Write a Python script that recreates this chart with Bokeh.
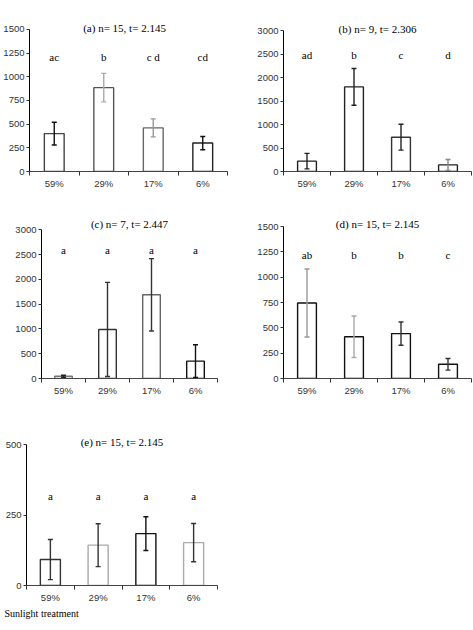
from bokeh.plotting import figure
from bokeh.models import Range1d, FixedTicker, Title
from bokeh.layouts import column, row
from bokeh.core.properties import value
from bokeh.embed import file_html
from bokeh.resources import INLINE

categories = ["59%", "29%", "17%", "6%"]

a_title = "(a) n= 15, t= 2.145"
a_means = [400, 885, 460, 300]
a_errors = [120, 150, 95, 70]
a_letters = ["ac", "b", "c d", "cd"]
a_yticks = [0, 250, 500, 750, 1000, 1250, 1500]

b_title = "(b) n= 9, t= 2.306"
b_means = [220, 1800, 730, 140]
b_errors = [165, 390, 275, 115]
b_letters = ["ad", "b", "c", "d"]
b_yticks = [0, 500, 1000, 1500, 2000, 2500, 3000]

c_title = "(c) n= 7, t= 2.447"
c_means = [45, 990, 1690, 350]
c_errors = [20, 950, 730, 330]
c_letters = ["a", "a", "a", "a"]
c_yticks = [0, 500, 1000, 1500, 2000, 2500, 3000]

d_title = "(d) n= 15, t= 2.145"
d_means = [745, 412, 443, 140]
d_errors = [335, 205, 115, 57]
d_letters = ["ab", "b", "b", "c"]
d_yticks = [0, 250, 500, 750, 1000, 1250, 1500]

e_title = "(e) n= 15, t= 2.145"
e_means = [92, 143, 184, 152]
e_errors = [71, 76, 60, 68]
e_letters = ["a", "a", "a", "a"]
e_yticks = [0, 250, 500]

x_axis_title = "Sunlight treatment"

SERIF = "Liberation Serif"
SANS = "Liberation Sans"


def panel(title, means, errors, letters, yticks, letter_y, fig_w, fig_h,
          left, right, top, bottom, ymax_px, title_dy, outline, whisk,
          bar_w=0.4, title_x=2.0):
    n = len(categories)
    ymax = yticks[-1]
    px_per_unit = (bottom - ymax_px) / ymax
    y_end = (bottom - top) / px_per_unit
    p = figure(width=fig_w, height=fig_h, output_backend="svg",
               toolbar_location=None,
               x_range=Range1d(0, n), y_range=Range1d(0, y_end),
               min_border_left=left, min_border_right=fig_w - right,
               min_border_top=top, min_border_bottom=fig_h - bottom)
    p.outline_line_color = None
    p.xgrid.visible = False
    p.ygrid.visible = False
    p.background_fill_color = "white"
    p.border_fill_color = "white"

    xs = [i + 0.5 for i in range(n)]
    lo = [m - e for m, e in zip(means, errors)]
    hi = [m + e for m, e in zip(means, errors)]

    p.vbar(x=xs, top=means, bottom=0, width=bar_w, fill_color="white",
           line_color=outline, line_width=1.4)
    p.segment(x0=xs, y0=lo, x1=xs, y1=hi, line_color=whisk, line_width=1.4)
    p.scatter(x=xs, y=hi, marker="dash", size=5, line_color=whisk,
              line_width=1.4)
    p.scatter(x=xs, y=lo, marker="dash", size=5, line_color=whisk,
              line_width=1.4)

    p.text(x=xs, y=[letter_y] * n, text=letters, text_font=value(SERIF),
           text_font_size="11px", text_align="center",
           text_baseline="middle", text_color="black")
    p.text(x=[title_x], y=[ymax + title_dy / px_per_unit], text=[title],
           text_font=value(SERIF), text_font_size="11px",
           text_align="center", text_baseline="middle", text_color="black")

    ya = p.yaxis[0]
    ya.ticker = FixedTicker(ticks=yticks, minor_ticks=[])
    ya.bounds = (0, ymax)
    ya.axis_line_color = "black"
    ya.axis_line_width = 1
    ya.major_tick_in = 0
    ya.major_tick_out = 3
    ya.minor_tick_in = 0
    ya.minor_tick_out = 0
    ya.major_tick_line_color = "#333333"
    ya.major_label_standoff = 2
    ya.major_label_text_font = SANS
    ya.major_label_text_font_size = "9.5px"
    ya.major_label_text_color = "#333333"

    xa = p.xaxis[0]
    xa.ticker = FixedTicker(ticks=xs, minor_ticks=list(range(n + 1)))
    xa.major_label_overrides = {x: c for x, c in zip(xs, categories)}
    xa.axis_line_color = "#444444"
    xa.major_tick_in = 0
    xa.major_tick_out = 0
    xa.minor_tick_in = 0
    xa.minor_tick_out = 4
    xa.minor_tick_line_color = "#333333"
    xa.major_label_standoff = 2
    xa.major_label_text_font = SANS
    xa.major_label_text_font_size = "9.5px"
    xa.major_label_text_color = "#333333"
    return p


pa = panel(a_title, a_means, a_errors, a_letters, a_yticks, 1213,
           250, 200, 27, 227, 4, 172, 29, 1,
           ["#444444", "#555555", "#666666", "#222222"],
           ["#111111", "#aaaaaa", "#999999", "#111111"], title_x=1.92)
pb = panel(b_title, b_means, b_errors, b_letters, b_yticks, 2480,
           223, 200, 33, 221, 4, 171, 30, 2,
           ["#222222", "#222222", "#333333", "#222222"],
           ["#222222", "#222222", "#222222", "#888888"])
pc = panel(c_title, c_means, c_errors, c_letters, c_yticks, 2585,
           250, 210, 41, 217, 4, 182, 30, 6,
           ["#777777", "#333333", "#666666", "#111111"],
           ["#222222", "#333333", "#333333", "#111111"])
pd = panel(d_title, d_means, d_errors, d_letters, d_yticks, 1222,
           223, 210, 33, 221, 4, 178, 26, 3,
           ["#111111", "#111111", "#111111", "#111111"],
           ["#999999", "#aaaaaa", "#333333", "#333333"])
pe = panel(e_title, e_means, e_errors, e_letters, e_yticks, 319,
           250, 220, 26, 217, 4, 175, 34, 3,
           ["#333333", "#aaaaaa", "#111111", "#aaaaaa"],
           ["#333333", "#333333", "#111111", "#333333"], bar_w=0.42)

pe.add_layout(Title(text=x_axis_title, align="left", offset=-22,
                    text_font=SERIF, text_font_size="10px",
                    text_font_style="normal", text_color="black",
                    standoff=0), "below")

layout = column(row(pa, pb), row(pc, pd), pe)

with open("out.html", "w") as f:
    f.write(file_html(layout, INLINE))
